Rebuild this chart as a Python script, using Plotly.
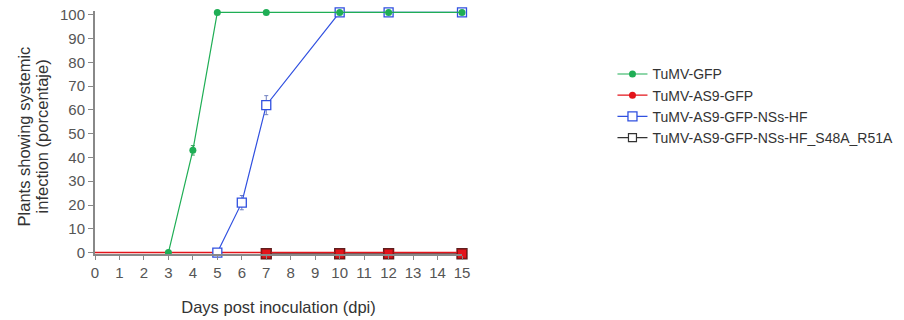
import plotly.graph_objects as go

# Data
gfp_x = [3, 4, 5, 7, 10, 12, 15]
gfp_y = [0, 43, 101, 101, 101, 101, 101]
gfp_err = [0, 2, 0, 0, 0, 0, 0]

as9_x = [0, 3, 5, 7, 10, 12, 15]
as9_y = [0, 0, 0, 0, 0, 0, 0]

nss_x = [5, 6, 7, 10, 12, 15]
nss_y = [0, 21, 62, 101, 101, 101]
nss_err = [0, 3, 4, 0, 0, 0]

mut_x = [7, 10, 12, 15]
mut_y = [-0.5, -0.5, -0.5, -0.5]

x_ticks = list(range(0, 16))
y_ticks = list(range(0, 101, 10))

names = ["TuMV-GFP", "TuMV-AS9-GFP", "TuMV-AS9-GFP-NSs-HF", "TuMV-AS9-GFP-NSs-HF_S48A_R51A"]
x_title = "Days post inoculation (dpi)"
y_title_lines = ["Plants showing systemic", "infection (porcentaje)"]

GREEN = "#1fae55"
RED = "#e3141b"
BLUE = "#3050e0"
BLACK = "#333333"

fig = go.Figure()

# draw order: black, red, blue, green
fig.add_trace(go.Scatter(
    x=mut_x, y=mut_y, name=names[3], showlegend=False, mode="lines+markers",
    line=dict(color=BLACK, width=1.2),
    marker=dict(symbol="square", size=10, color="white", line=dict(color="#552222", width=1.3)),
    cliponaxis=False))

fig.add_trace(go.Scatter(
    x=as9_x, y=as9_y, name=names[1], showlegend=False, mode="lines",
    line=dict(color=RED, width=1.6), cliponaxis=False))

fig.add_trace(go.Scatter(
    x=mut_x, y=mut_y, name=names[1], showlegend=False, mode="markers",
    marker=dict(symbol="square", size=9, color=RED, line=dict(color="#8a1010", width=1)),
    cliponaxis=False))

fig.add_trace(go.Scatter(
    x=nss_x, y=nss_y, name=names[2], legendrank=3, mode="lines+markers",
    line=dict(color=BLUE, width=1.2),
    marker=dict(symbol="square", size=9, color="white", line=dict(color=BLUE, width=1.3)),
    error_y=dict(type="data", array=nss_err, visible=True, color="#7080c0", thickness=1, width=2),
    cliponaxis=False))

fig.add_trace(go.Scatter(
    x=gfp_x, y=gfp_y, name=names[0], legendrank=1, mode="lines+markers",
    line=dict(color=GREEN, width=1.2),
    marker=dict(symbol="circle", size=7, color=GREEN),
    error_y=dict(type="data", array=gfp_err, visible=True, color="#40a060", thickness=1, width=2),
    cliponaxis=False))

# legend entries for red / black series
fig.add_trace(go.Scatter(x=[None], y=[None], name=names[1], legendrank=2, mode="lines+markers",
                         line=dict(color=RED, width=1.2), marker=dict(symbol="circle", size=7, color=RED)))
fig.add_trace(go.Scatter(x=[None], y=[None], name=names[3], legendrank=4, mode="lines+markers",
                         line=dict(color=BLACK, width=1.2),
                         marker=dict(symbol="square", size=8, color="white", line=dict(color=BLACK, width=1.2))))

fig.update_layout(
    width=904, height=320,
    margin=dict(l=95, r=442, t=11, b=66, autoexpand=False),
    paper_bgcolor="white", plot_bgcolor="white",
    font=dict(family="Liberation Sans, Arial, sans-serif", size=14, color="#555555"),
    showlegend=True,
    legend=dict(x=1.41, y=0.805, xanchor="left", yanchor="top",
                font=dict(size=14, color="#333333"), tracegroupgap=0,
                itemwidth=30, bgcolor="rgba(0,0,0,0)"),
)

# y-axis title as two rotated lines (tighter line spacing)
for xp, line in zip([-0.194, -0.145], y_title_lines):
    fig.add_annotation(text=line, xref="paper", yref="paper", x=xp, y=0.483,
                       textangle=-90, showarrow=False, xanchor="center", yanchor="middle",
                       font=dict(size=16.5, color="#333333"))

fig.update_xaxes(
    range=[0, 15], tickvals=x_ticks, ticktext=[str(t) for t in x_ticks],
    showgrid=False, zeroline=False, showline=True, linecolor="#888888", linewidth=1.5,
    ticks="outside", ticklen=4, tickcolor="#888888", tickfont=dict(size=15, color="#555555"),
    automargin=False, ticklabeloverflow="allow",
    title=dict(text=x_title, font=dict(size=16.5, color="#333333"), standoff=22),
)
fig.update_yaxes(
    range=[-0.6, 101.6], tickvals=y_ticks, ticktext=[str(t) for t in y_ticks],
    showgrid=False, zeroline=False, showline=True, linecolor="#888888", linewidth=2,
    ticks="outside", ticklen=5, tickcolor="#888888", tickfont=dict(size=15, color="#555555"),
    automargin=False, ticklabeloverflow="allow",
)

# remove the default 8px page margin so the figure fills the window
fig.write_html("out.html", config={"displayModeBar": False},
               post_script="document.body.style.margin='0';")
